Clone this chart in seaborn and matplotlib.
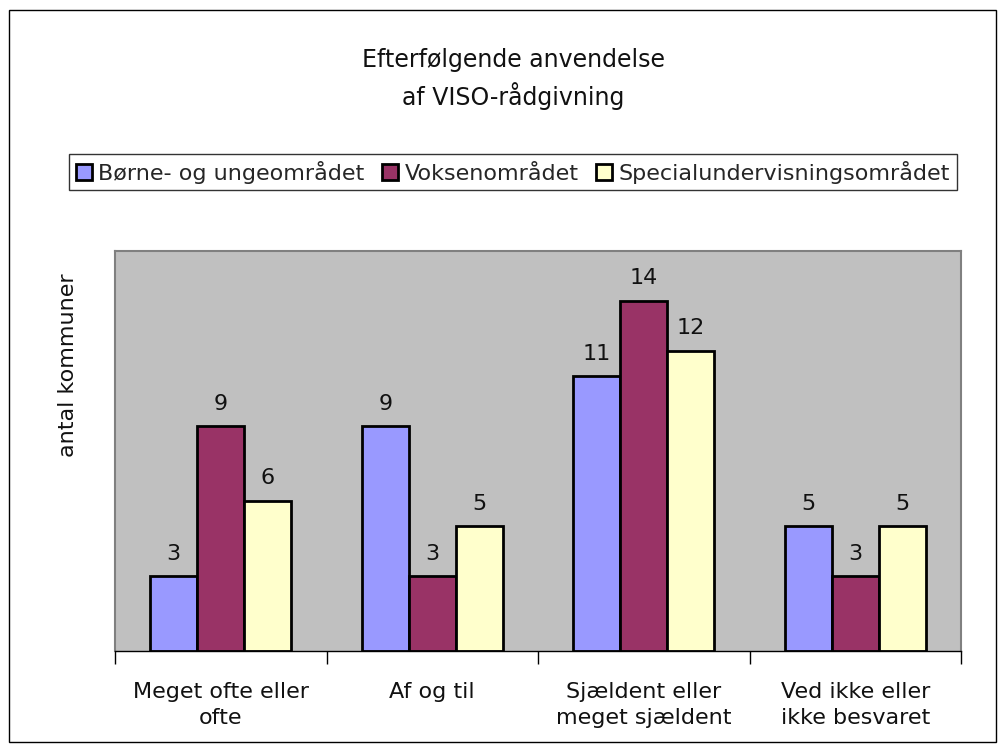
import matplotlib
matplotlib.use("Agg")
import matplotlib.pyplot as plt
from matplotlib.patches import Rectangle
import seaborn as sns
import pandas as pd

categories = ["Meget ofte eller\nofte", "Af og til", "Sjældent eller\nmeget sjældent", "Ved ikke eller\nikke besvaret"]
series = ["Børne- og ungeområdet", "Voksenområdet", "Specialundervisningsområdet"]
boern = [3, 9, 11, 5]
voksen = [9, 3, 14, 3]
special = [6, 5, 12, 5]
colors = ["#9999FF", "#993366", "#FFFFCC"]

rows = []
for s, vals in zip(series, [boern, voksen, special]):
    for c, v in zip(categories, vals):
        rows.append({"kategori": c, "serie": s, "antal": v})
df = pd.DataFrame(rows)

sns.set_style("white")
plt.rcParams["font.family"] = ["DejaVu Sans"]

fig = plt.figure(figsize=(10.07, 7.52), dpi=100)
ax = fig.add_axes([115/1007, 1-651/752, 846/1007, 400/752])
sns.barplot(data=df, x="kategori", y="antal", hue="serie", order=categories,
            hue_order=series, palette=colors, width=0.667, edgecolor="black",
            linewidth=2, saturation=1, ax=ax, legend=False)

ax.set_facecolor("#C0C0C0")
ax.set_ylim(0, 16)
ax.set_xlim(-0.5, 3.5)
ax.set_yticks([])
ax.set_xlabel("")
ax.set_ylabel("")
for side in ["left", "right", "top"]:
    ax.spines[side].set_color("#808080")
    ax.spines[side].set_linewidth(1.5)
ax.spines["bottom"].set_color("black")
ax.spines["bottom"].set_linewidth(1)
ax.tick_params(axis="x", which="major", length=0, pad=22, labelsize=16, colors="#111111")
ax.set_xticks([-0.5, 0.5, 1.5, 2.5, 3.5], minor=True)
ax.tick_params(axis="x", which="minor", bottom=True, length=9, width=1, direction="out", color="black")
for lbl in ax.get_xticklabels():
    lbl.set_linespacing(1.4)

for cont in ax.containers:
    ax.bar_label(cont, padding=9, fontsize=16, color="#111111")

fig.text(513/1007, 1-79/752, "Efterfølgende anvendelse\naf VISO-rådgivning", ha="center",
         va="center", fontsize=17, linespacing=1.45, color="#111111")
fig.text(68/1007, 1-365/752, "antal kommuner", rotation=90, ha="center", va="center",
         fontsize=16, color="#111111")

handles = [Rectangle((0, 0), 1, 1, facecolor=c, edgecolor="black", linewidth=2) for c in colors]
leg = fig.legend(handles, series, loc="center", bbox_to_anchor=(513/1007, 1-172/752),
                 ncol=3, frameon=True, fancybox=False, fontsize=16, handlelength=0.7,
                 handleheight=0.7, handletextpad=0.3, columnspacing=0.8,
                 borderpad=0.3, borderaxespad=0)
leg.get_frame().set_edgecolor("black")
leg.get_frame().set_linewidth(1)

fig.patches.append(Rectangle((9/1007, 10/752), 987/1007, 732/752, transform=fig.transFigure,
                             fill=False, edgecolor="black", linewidth=1))

fig.savefig("out.png", dpi=100, facecolor="white")
